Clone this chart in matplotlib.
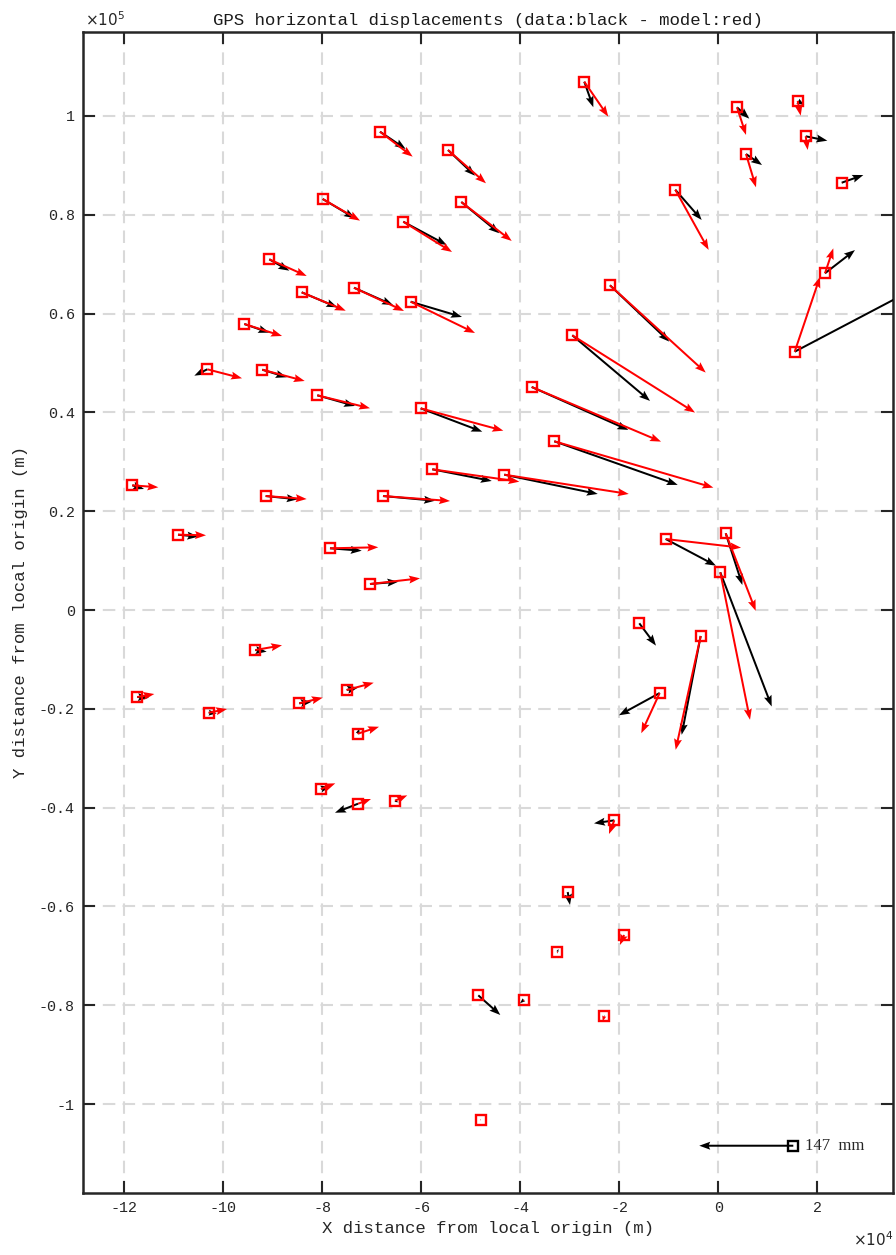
"""
GPS 수평 변위 (관측: 검정, 모델: 빨강) — quiver 그림 재현
"""
import matplotlib
matplotlib.use('Agg')
import matplotlib.pyplot as plt
from matplotlib.ticker import FuncFormatter

# ── 관측소 위치 (local origin 기준, m) ────────────────────────────────────────
sta_x = [-68340, -73590, -79910, -63630, -90700, -84150, -62140, -54600, -51910, -27070,
         3780, 16040, 17660, 5600, 24930, -8690, 21550, -21880, 15430, -95750,
         -103220, -92110, -81000, -60120, -57770, -43230, -118370, -91430, -67730, -109140,
         -78440, -70360, -29490, -37690, -33130, -10630, 1500, 400, -15960, -3560,
         -11840, -21010, -30420, -93530, -117360, -102940, -84640, -75060, -72840, -80260,
         -72780, -65310, -19050, -32520, -48480, -39250, -23030, -48000]
sta_y = [96810, 65230, 83190, 78590, 70980, 64300, 62400, 93100, 82580, 106930,
         101750, 103020, 95880, 92290, 86490, 85070, 68150, 65720, 52280, 57890,
         48720, 48640, 43460, 40820, 28480, 27390, 25240, 23070, 23070, 15240,
         12490, 5260, 55600, 45140, 34150, 14370, 15520, 7630, -2690, -5260,
         -16800, -42570, -57080, -8100, -17610, -20790, -18880, -16190, -25040, -36230,
         -39210, -38600, -65780, -69160, -77990, -78880, -82170, -103160]

# ── 관측 변위 (mm) ────────────────────────────────────────────────────────────
obs_e = [40.2, 61.0, 50.5, 67.9, 31.3, 55.7, 80.2, 42.2, 59.4, 14.1,
         19.2, 10.3, 33.8, 25.0, 33.8, 41.3, 46.9, 92.7, 243.0, 39.1,
         -20.3, 38.2, 59.0, 96.3, 92.9, 146.1, 18.3, 50.0, 81.3, 31.7,
         49.6, 44.3, 121.5, 151.1, 193.0, 78.7, 26.0, 80.4, 26.1, -29.7,
         -63.7, -31.7, 3.6, 17.8, 18.3, 12.5, 19.4, 18.1, 2.5, 14.1,
         -36.0, 5.2, 1.0, 1.9, 34.4, -6.3, 1.0, 0.3]
obs_n = [-27.1, -27.1, -30.2, -36.4, -17.8, -23.5, -23.9, -40.2, -49.0, -40.0,
         -17.8, -6.3, -6.9, -17.2, 12.0, -47.4, 36.4, -88.2, 128.0, -13.6,
         -10.0, -11.9, -16.7, -36.6, -18.3, -30.2, -5.8, -5.2, -7.4, -3.1,
         -3.8, 3.6, -102.8, -67.3, -68.3, -41.8, -80.9, -210.2, -35.0, -154.8,
         -34.9, -4.7, -20.3, -2.7, -1.1, -0.9, 2.5, 4.2, 8.4, 3.6,
         -14.1, -2.5, -1.0, 4.2, -30.8, -5.6, 1.0, 1.0]

# ── 모델 변위 (mm) ────────────────────────────────────────────────────────────
mod_e = [51.1, 78.2, 58.3, 76.2, 58.5, 68.8, 100.6, 59.4, 78.8, 37.5,
         14.1, 4.7, 3.1, 15.6, 2.0, 52.2, 13.0, 149.7, 39.6, 59.0,
         54.3, 66.3, 82.4, 129.2, 136.1, 194.6, 40.7, 64.1, 104.8, 43.8,
         75.5, 78.2, 191.9, 202.2, 248.7, 117.8, 46.9, 46.5, 0.8, -39.1,
         -28.8, -8.3, 0.5, 41.8, 26.6, 28.6, 36.6, 42.2, 33.3, 22.4,
         20.3, 19.2, -6.3, 0.8, 1.0, -1.5, -2.5, 0.3]
mod_n = [-39.1, -36.4, -33.9, -47.4, -26.1, -28.8, -49.0, -52.1, -61.0, -54.7,
         -43.3, -23.0, -21.4, -52.1, -1.1, -94.3, 39.1, -136.7, 117.3, -18.8,
         -14.1, -17.7, -20.3, -35.0, -19.4, -30.2, -3.1, -4.7, -7.8, -0.9,
         1.6, 8.9, -121.1, -85.6, -72.6, -13.6, -121.5, -231.0, -1.5, -178.3,
         -63.0, -21.4, -1.5, 7.4, 4.7, 5.8, 8.8, 11.4, 10.9, 8.9,
         7.4, 8.4, -15.6, -3.0, -1.0, -3.0, -8.6, -1.5]

# ── 스케일 화살표 ─────────────────────────────────────────────────────────────
ref_x, ref_y = 15150, -108430
ref_mm = 147
ref_label = '147  mm'

M_PER_MM = 129.2      # 지도상 길이 (m) / 변위 (mm)

# ── 스타일 ───────────────────────────────────────────────────────────────────
FONT = 'Liberation Mono'
AX_COL = '#262626'
plt.rcParams['font.family'] = FONT

fig = plt.figure(figsize=(8.96, 12.55), dpi=100, facecolor='white')
ax = fig.add_axes([83 / 896, 1 - 1193 / 1255, 810 / 896, 1161 / 1255])

ax.set_xlim(-128330, 35290)
ax.set_ylim(-118000, 116990)

ax.set_axisbelow(True)
ax.grid(True, ls=(0, (6, 3.5)), color='#d9d9d9', lw=1.5)

qkw = dict(angles='xy', scale_units='xy', scale=1 / M_PER_MM, units='dots',
           width=2.0, headwidth=4.0, headlength=5.5, headaxislength=4.8,
           minlength=0.05, zorder=3)
ax.quiver(sta_x, sta_y, obs_e, obs_n, color='black', **qkw)
ax.quiver(sta_x, sta_y, mod_e, mod_n, color='#ff0000', **qkw)
ax.plot(sta_x, sta_y, 's', ms=6.5, mfc='none', mec='#ff0000', mew=1.7, zorder=4)

# 스케일 화살표
ax.quiver([ref_x], [ref_y], [-ref_mm], [0], color='black', **qkw)
ax.plot([ref_x], [ref_y], 's', ms=6.5, mfc='none', mec='black', mew=1.7, zorder=4)
ax.text(ref_x + 2300, ref_y, ref_label, family='Liberation Serif', fontsize=12,
        va='center', ha='left', color='#262626')

# ── 축 ───────────────────────────────────────────────────────────────────────
ax.set_xticks([-120000, -100000, -80000, -60000, -40000, -20000, 0, 20000])
ax.set_yticks([-100000, -80000, -60000, -40000, -20000, 0, 20000, 40000, 60000,
               80000, 100000])
ax.xaxis.set_major_formatter(FuncFormatter(lambda v, p: f'{v / 1e4:g}'))
ax.yaxis.set_major_formatter(FuncFormatter(lambda v, p: f'{v / 1e5:g}'))
ax.tick_params(direction='in', length=8.5, width=1.5, colors=AX_COL,
               labelsize=10.8, top=True, right=True, pad=6)
for sp in ax.spines.values():
    sp.set_linewidth(1.8)
    sp.set_color(AX_COL)

ax.set_xlabel('X distance from local origin (m)', fontsize=12.5, color=AX_COL,
              labelpad=4)
ax.set_ylabel('Y distance from local origin (m)', fontsize=12.5, color=AX_COL,
              labelpad=8)
ax.set_title('GPS horizontal displacements (data:black - model:red)',
             fontsize=12.5, color='#1a1a1a', pad=5)

# MATLAB 식 지수 표기
fig.text(85 / 896, 1 - 20 / 1255, r'$\times10^{5}$', fontsize=11, color=AX_COL,
         va='center', ha='left')
fig.text(893 / 896, 1 - 1240 / 1255, r'$\times10^{4}$', fontsize=11, color=AX_COL,
         va='center', ha='right')

fig.savefig('out.png', dpi=100, facecolor='white')
